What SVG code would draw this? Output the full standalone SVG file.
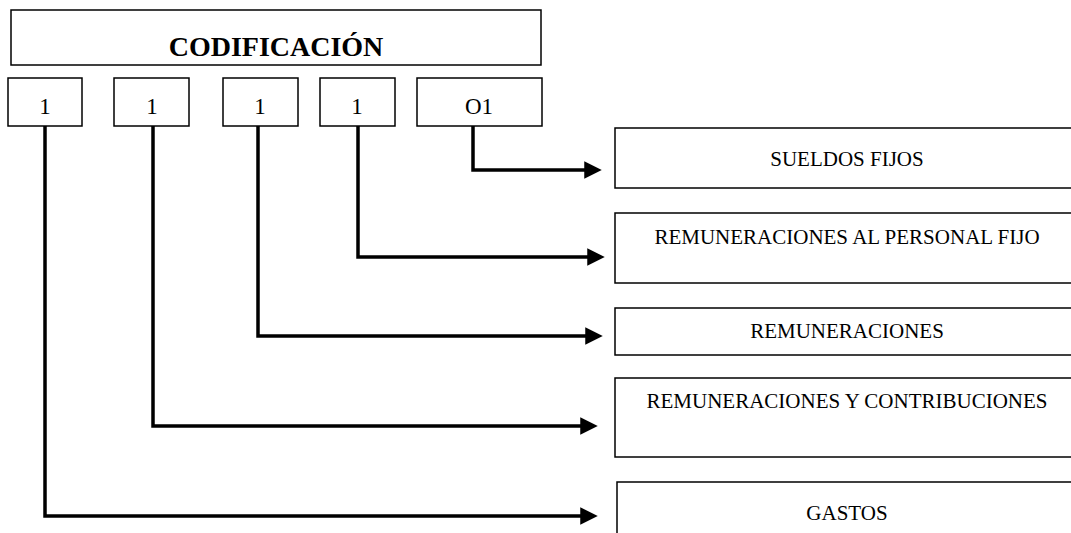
<svg xmlns="http://www.w3.org/2000/svg" width="1071" height="533" viewBox="0 0 1071 533">
<style>
.box{fill:#fff;stroke:#000;stroke-width:1.5}
.t{font-family:"Liberation Serif","Times New Roman",serif;fill:#000;text-anchor:middle}
.title{font-size:28px;font-weight:bold}
.num{font-size:23px}
.lbl{font-size:21px}
.conn{fill:none;stroke:#000;stroke-width:3.5}
</style>
<defs>
<marker id="ah" markerWidth="5" markerHeight="5" refX="0.5" refY="2.5" orient="auto" markerUnits="strokeWidth">
<path d="M0,0 L5,2.5 L0,5 Z" fill="#000"/>
</marker>
</defs>
<rect width="1071" height="533" fill="#fff"/>
<g id="title"><rect class="box" x="11" y="10" width="530" height="55"/><text class="t title" x="276" y="56">CODIFICACIÓN</text></g>
<g id="d1"><rect class="box" x="8" y="78" width="74" height="48"/><text class="t num" x="45" y="114">1</text></g>
<g id="d2"><rect class="box" x="114" y="78" width="75" height="48"/><text class="t num" x="152" y="114">1</text></g>
<g id="d3"><rect class="box" x="223" y="78" width="75" height="48"/><text class="t num" x="260" y="114">1</text></g>
<g id="d4"><rect class="box" x="320" y="78" width="75" height="48"/><text class="t num" x="357" y="114">1</text></g>
<g id="d5"><rect class="box" x="417" y="78" width="125" height="48"/><text class="t num" x="479" y="114">O1</text></g>
<g id="n1"><rect class="box" x="615" y="128" width="470" height="60"/><text class="t lbl" x="847" y="166">SUELDOS FIJOS</text></g>
<g id="n2"><rect class="box" x="615" y="213" width="470" height="70"/><text class="t lbl" x="847" y="244">REMUNERACIONES AL PERSONAL FIJO</text></g>
<g id="n3"><rect class="box" x="615" y="308" width="470" height="47"/><text class="t lbl" x="847" y="338">REMUNERACIONES</text></g>
<g id="n4"><rect class="box" x="615" y="378" width="470" height="79"/><text class="t lbl" x="847" y="408">REMUNERACIONES Y CONTRIBUCIONES</text></g>
<g id="n5"><rect class="box" x="617" y="482" width="470" height="70"/><text class="t lbl" x="847" y="520">GASTOS</text></g>
<g id="connectors">
<path class="conn" d="M473,126 V170 H586" marker-end="url(#ah)"/>
<path class="conn" d="M358,126 V257 H589" marker-end="url(#ah)"/>
<path class="conn" d="M258,126 V336 H587" marker-end="url(#ah)"/>
<path class="conn" d="M153,126 V426 H582" marker-end="url(#ah)"/>
<path class="conn" d="M45,126 V516 H582" marker-end="url(#ah)"/>
</g>
</svg>
